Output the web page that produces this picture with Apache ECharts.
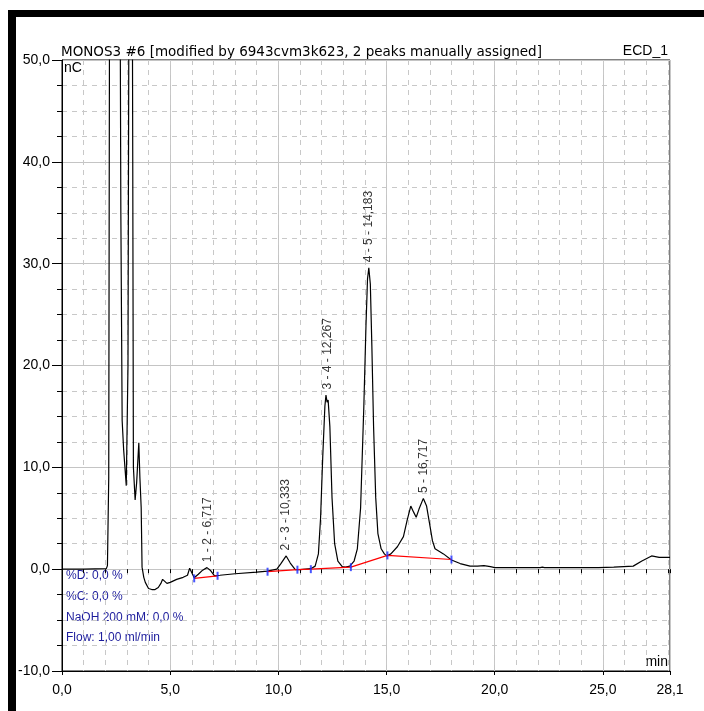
<!DOCTYPE html>
<html>
<head>
<meta charset="utf-8">
<script src="https://cdn.jsdelivr.net/npm/echarts@6/dist/echarts.min.js"></script>
<style>
html,body{margin:0;padding:0;background:#fff;}
#chart{width:704px;height:711px;}
</style>
</head>
<body>
<div id="chart"></div>
<script>
// Chromatogram signal (time in min, signal in nC)
var signalTime = [0, 1.0, 2.05, 2.1, 2.14, 2.16, 2.2, 2.25, 2.45, 2.65, 2.72, 2.78, 2.85, 2.97, 3.05, 3.12, 3.2, 3.27, 3.3, 3.38, 3.45, 3.55, 3.6, 3.66, 3.7, 3.78, 3.85, 4.0, 4.15, 4.3, 4.45, 4.57, 4.65, 4.75, 4.85, 5.0, 5.3, 5.6, 5.8, 5.9, 5.95, 6.11, 6.3, 6.5, 6.7, 6.85, 7.05, 7.3, 8.0, 9.0, 9.5, 9.93, 10.1, 10.36, 10.55, 10.78, 11.0, 11.5, 11.7, 11.85, 11.95, 12.05, 12.15, 12.2, 12.25, 12.3, 12.38, 12.48, 12.6, 12.75, 12.95, 13.1, 13.3, 13.5, 13.65, 13.8, 13.95, 14.05, 14.12, 14.18, 14.25, 14.32, 14.4, 14.5, 14.6, 14.75, 14.9, 15.0, 15.2, 15.5, 15.78, 15.95, 16.12, 16.25, 16.37, 16.5, 16.7, 16.85, 17.01, 17.12, 17.24, 17.63, 18.0, 18.4, 18.86, 19.2, 19.5, 19.8, 20.0, 22.1, 22.2, 22.3, 24.8, 25.5, 26.4, 26.8, 27.25, 27.6, 28.1];
var signalValue = [0.0, 0.0, 0.05, 0.35, 0.2, 9.0, 60, 120, 150, 80, 35, 14.6, 11.7, 8.2, 20, 80, 100, 40, 10, 6.8, 8.5, 12.4, 9.0, 6.0, 0.2, -0.8, -1.3, -1.9, -2.0, -2.0, -1.8, -1.4, -1.0, -1.2, -1.4, -1.3, -1.0, -0.8, -0.6, 0.1, 0.0, -0.85, -0.5, -0.1, 0.15, -0.1, -0.65, -0.6, -0.45, -0.3, -0.2, 0.0, 0.5, 1.3, 0.6, -0.05, -0.05, 0.05, 0.3, 1.5, 5, 11, 16.0, 17.1, 16.4, 16.6, 14, 7, 2.5, 0.8, 0.25, 0.2, 0.3, 0.8, 2.0, 6, 16, 24, 28.5, 29.6, 28, 22, 14, 7, 3.5, 2.0, 1.5, 1.3, 1.5, 2.2, 3.2, 4.8, 6.2, 5.6, 5.1, 5.9, 6.95, 6.2, 4.2, 2.8, 2.0, 1.5, 0.9, 0.55, 0.3, 0.3, 0.35, 0.25, 0.15, 0.15, 0.2, 0.15, 0.15, 0.2, 0.3, 0.8, 1.3, 1.15, 1.15];

// Integration baselines (red)
var base1Time = [6.11, 7.19];
var base1Value = [-0.9, -0.65];
var base2Time = [9.5, 10.88, 11.5, 13.35, 15.04, 18.0];
var base2Value = [-0.25, -0.05, 0.0, 0.2, 1.35, 0.95];

// Peak delimiters (blue marks)
var delimTime = [6.11, 7.19, 9.5, 10.88, 11.5, 13.35, 15.04, 18.0];
var delimValue = [-0.9, -0.65, -0.25, -0.05, 0.0, 0.2, 1.35, 0.95];

// Peak annotations
var peakLabels = ['1 - 2 - 6,717', '2 - 3 - 10,333', '3 - 4 - 12,267', '4 - 5 - 14,183', '5 - 16,717'];
var peakTime = [6.717, 10.333, 12.267, 14.183, 16.717];
var peakValue = [0.15, 1.3, 17.1, 29.6, 6.95];

var infoLines = ['%D: 0,0 %', '%C: 0,0 %', 'NaOH 200 mM: 0,0 %', 'Flow: 1,00 ml/min'];
var titleText = 'MONOS3 #6 [modified by 6943cvm3k623, 2 peaks manually assigned]';
var channelText = 'ECD_1';

function zip(a, b) { return a.map(function (v, i) { return [v, b[i]]; }); }
function fmt(v) { return v.toFixed(1).replace('.', ','); }

var FONT = 'Liberation Sans';
var chart = echarts.init(document.getElementById('chart'), null, {renderer: 'canvas'});

var graphics = [
  {type: 'rect', shape: {x: 8, y: 10, width: 696, height: 7}, style: {fill: '#000'}},
  {type: 'rect', shape: {x: 8, y: 10, width: 8, height: 701}, style: {fill: '#000'}},
  {type: 'text', left: 64, top: 61, style: {text: 'nC', fill: '#000', font: '14px ' + FONT}},
  {type: 'text', right: 36, top: 655, style: {text: 'min', fill: '#000', font: '14px ' + FONT}}
];
infoLines.forEach(function (t, i) {
  graphics.push({type: 'text', left: 66, top: 570 + i * 20.7, style: {text: t, fill: '#1c1c9c', font: '12px ' + FONT}});
});

var option = {
  animation: false,
  backgroundColor: '#fff',
  title: [
    {text: titleText, left: 61, top: 45, padding: 0, textStyle: {fontFamily: 'DejaVu Sans', fontSize: 13.5, fontWeight: 'normal', color: '#000'}},
    {text: channelText, right: 36, top: 44, padding: 0, textStyle: {fontFamily: FONT, fontSize: 14, fontWeight: 'normal', color: '#000'}}
  ],
  grid: {left: 62, right: 34, top: 60, bottom: 40, show: true, borderColor: '#000', borderWidth: 1, backgroundColor: 'transparent'},
  xAxis: [
    {
      type: 'value', min: 0, max: 28.1, interval: 5, position: 'bottom',
      axisLine: {show: true, onZero: false, lineStyle: {color: '#000', width: 1}},
      axisTick: {show: true, length: 4, lineStyle: {color: '#000'}},
      axisLabel: {show: true, margin: 12, color: '#000', fontFamily: FONT, fontSize: 14,
        formatter: function (v) { return (Math.abs(v % 5) < 1e-9 || Math.abs(v - 28.1) < 1e-9) ? fmt(v) : ''; }},
      splitLine: {show: true, lineStyle: {color: '#c4c4c4', width: 1, type: 'solid'}}
    },
    {
      type: 'value', min: 0, max: 28.1, interval: 1, position: 'bottom',
      axisLine: {show: false},
      axisTick: {show: true, length: 4, lineStyle: {color: '#000'}},
      axisLabel: {show: false},
      splitLine: {show: true, lineStyle: {color: '#c8c8c8', width: 1, type: [5, 5]}}
    }
  ],
  yAxis: {
    type: 'value', min: -10, max: 50, interval: 10,
    axisLine: {show: true, onZero: false, lineStyle: {color: '#000', width: 1}},
    axisTick: {show: true, length: 10, lineStyle: {color: '#000'}},
    minorTick: {show: true, splitNumber: 4, length: 5, lineStyle: {color: '#000'}},
    axisLabel: {margin: 12, color: '#000', fontFamily: FONT, fontSize: 14, formatter: function (v) { return fmt(v); }},
    splitLine: {show: true, lineStyle: {color: '#c4c4c4', width: 1, type: 'solid'}},
    minorSplitLine: {show: true, lineStyle: {color: '#c8c8c8', width: 1, type: [5, 5]}}
  },
  graphic: graphics,
  series: [
    {
      type: 'line', data: zip(signalTime, signalValue), xAxisIndex: 0, showSymbol: false, clip: true,
      lineStyle: {color: '#000', width: 1.2}, z: 5
    },
    {
      type: 'line', data: zip(base1Time, base1Value), xAxisIndex: 0, showSymbol: false,
      lineStyle: {color: '#ff0000', width: 1.2}, z: 6
    },
    {
      type: 'line', data: zip(base2Time, base2Value), xAxisIndex: 0, showSymbol: false,
      lineStyle: {color: '#ff0000', width: 1.2}, z: 6
    },
    {
      type: 'scatter', data: zip(delimTime, delimValue), xAxisIndex: 0, symbol: 'rect', symbolSize: [2, 8],
      itemStyle: {color: '#1a2cff'}, z: 7
    },
    {
      type: 'scatter', xAxisIndex: 0, symbolSize: 1, itemStyle: {color: 'rgba(0,0,0,0)'}, z: 8,
      data: peakTime.map(function (t, i) { return {value: [t, peakValue[i]], name: peakLabels[i]}; }),
      label: {show: true, position: 'top', distance: 5, rotate: 90, align: 'left', verticalAlign: 'middle',
        formatter: function (p) { return p.name; }, color: '#000', fontFamily: FONT, fontSize: 12}
    }
  ]
};
chart.setOption(option);
</script>
</body>
</html>
